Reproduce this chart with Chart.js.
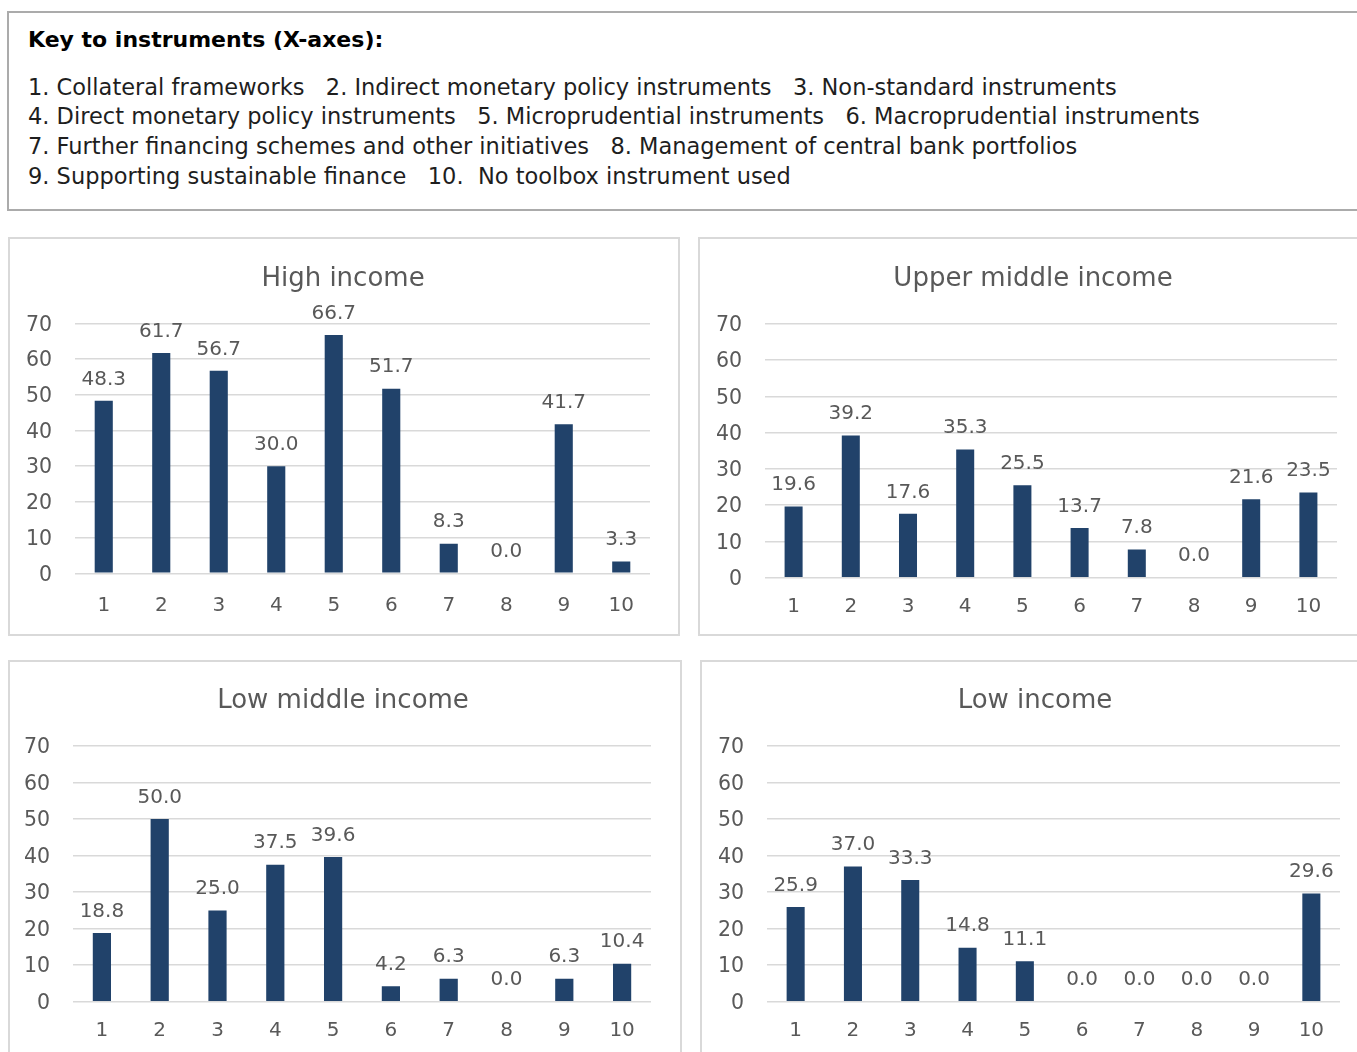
<!DOCTYPE html>
<html>
<head>
<meta charset="utf-8">
<script src="https://cdn.jsdelivr.net/npm/chart.js@4/dist/chart.umd.min.js"></script>
<style>
  html, body { margin: 0; padding: 0; background: #fff; }
  body { width: 1357px; height: 1052px; overflow: hidden; position: relative;
         font-family: "DejaVu Sans", sans-serif; }
  #key { position: absolute; left: 7px; top: 11px; width: 1420px; height: 200px;
         border: 2px solid #ababab; box-sizing: border-box; }
  .kt { position: absolute; left: 28px; white-space: pre; color: #1e1e1e;
        line-height: 30px; font-size: 22.5px; }
  .kt.head { font-weight: bold; font-size: 22px; color: #000; }
  .frame { position: absolute; border: 2px solid #d9d9d9; box-sizing: border-box; pointer-events: none; }
  canvas { position: absolute; }
</style>
</head>
<body>
<div id="key"></div>
<div class="kt head" style="top:25px">Key to instruments (X-axes):</div>
<div class="kt" style="top:72px">1. Collateral frameworks   2. Indirect monetary policy instruments   3. Non-standard instruments</div>
<div class="kt" style="top:101px">4. Direct monetary policy instruments   5. Microprudential instruments   6. Macroprudential instruments</div>
<div class="kt" style="top:131px">7. Further financing schemes and other initiatives   8. Management of central bank portfolios</div>
<div class="kt" style="top:161px">9. Supporting sustainable finance   10.  No toolbox instrument used</div>

<script>
// Instrument numbers on every x-axis
const instruments = ['1', '2', '3', '4', '5', '6', '7', '8', '9', '10'];
const yTicks = [0, 10, 20, 30, 40, 50, 60, 70];

// Share of central banks using each instrument, by income group (%)
const highIncome        = [48.3, 61.7, 56.7, 30.0, 66.7, 51.7, 8.3, 0.0, 41.7, 3.3];
const upperMiddleIncome = [19.6, 39.2, 17.6, 35.3, 25.5, 13.7, 7.8, 0.0, 21.6, 23.5];
const lowMiddleIncome   = [18.8, 50.0, 25.0, 37.5, 39.6, 4.2, 6.3, 0.0, 6.3, 10.4];
const lowIncome         = [25.9, 37.0, 33.3, 14.8, 11.1, 0.0, 0.0, 0.0, 0.0, 29.6];

const titles = ['High income', 'Upper middle income', 'Low middle income', 'Low income'];
const series = [highIncome, upperMiddleIncome, lowMiddleIncome, lowIncome];

// Panel box [x, y, w, h] and plot area [left, top, right, bottom] on the page
const panels = [
  { box: [8, 237, 672, 399],   area: [75, 323.3, 650, 573.3],  titleY: 42, xGap: 32.5 },
  { box: [698, 237, 690, 399], area: [765, 323.7, 1337, 577.7], titleY: 42, xGap: 29.5 },
  { box: [8, 660, 674, 420],   area: [73, 746, 651, 1001.7],    titleY: 41, xGap: 29 },
  { box: [700, 660, 690, 420], area: [767, 746, 1340, 1001.7],  titleY: 41, xGap: 29 }
];

const FONT = '"DejaVu Sans", sans-serif';
const TEXT = '#595959';
const BAR = '#21426a';

const panelDecor = {
  id: 'panelDecor',
  afterDatasetsDraw(chart, args, opts) {
    const ctx = chart.ctx;
    ctx.save();
    // value above each bar
    ctx.fillStyle = TEXT;
    ctx.font = '20px ' + FONT;
    ctx.textAlign = 'center';
    ctx.textBaseline = 'middle';
    const meta = chart.getDatasetMeta(0);
    const vals = chart.data.datasets[0].data;
    meta.data.forEach((bar, i) => {
      ctx.fillText(vals[i].toFixed(1), bar.x, bar.y - 21.5);
    });
    // panel title
    ctx.font = '26px ' + FONT;
    ctx.fillText(opts.title, 335, opts.titleY);
    ctx.restore();
  }
};

panels.forEach((p, k) => {
  const [bx, by, bw, bh] = p.box;
  const [l, t, r, b] = p.area;
  const cv = document.createElement('canvas');
  cv.width = bw; cv.height = bh;
  cv.style.left = bx + 'px'; cv.style.top = by + 'px';
  cv.style.width = bw + 'px'; cv.style.height = bh + 'px';
  document.body.appendChild(cv);

  const fr = document.createElement('div');
  fr.className = 'frame';
  fr.style.left = bx + 'px'; fr.style.top = by + 'px';
  fr.style.width = bw + 'px'; fr.style.height = bh + 'px';
  document.body.appendChild(fr);

  const yw = l - bx;
  const xh = (by + bh) - b;

  new Chart(cv, {
    type: 'bar',
    data: {
      labels: instruments,
      datasets: [{
        data: series[k],
        backgroundColor: BAR,
        borderWidth: 0,
        categoryPercentage: 1.0,
        barPercentage: 0.315
      }]
    },
    options: {
      responsive: false,
      animation: false,
      events: [],
      layout: { padding: { left: 0, top: t - by, right: (bx + bw) - r, bottom: 0 } },
      plugins: {
        legend: { display: false },
        tooltip: { enabled: false },
        title: { display: false },
        panelDecor: { title: titles[k], titleY: p.titleY }
      },
      scales: {
        x: {
          grid: { display: false, drawTicks: false },
          border: { display: false },
          ticks: { color: TEXT, font: { family: FONT, size: 20 }, padding: p.xGap - 12, maxRotation: 0 },
          afterFit(s) { s.height = xh; }
        },
        y: {
          min: 0, max: 70,
          afterBuildTicks(s) { s.ticks = yTicks.map(v => ({ value: v })); },
          grid: { color: '#d9d9d9', lineWidth: 1.5, drawTicks: false },
          border: { display: false },
          ticks: { color: TEXT, font: { family: FONT, size: 20.5 }, padding: 23, labelOffset: 2 },
          afterFit(s) { s.width = yw; }
        }
      }
    },
    plugins: [panelDecor]
  });
});
</script>
</body>
</html>
